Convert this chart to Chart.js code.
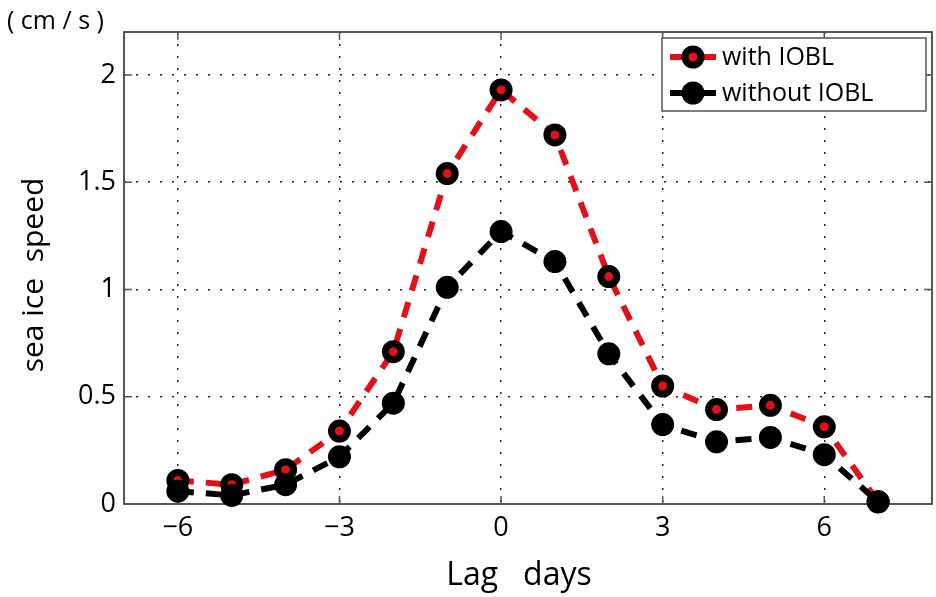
<!DOCTYPE html>
<html>
<head>
<meta charset="utf-8">
<script src="https://cdn.jsdelivr.net/npm/chart.js@4.4.1/dist/chart.umd.min.js"></script>
<style>
  html, body { margin: 0; padding: 0; background: #fff; }
  #wrap { width: 936px; height: 597px; }
</style>
</head>
<body>
<div id="wrap"><canvas id="iceChart" width="936" height="597"></canvas></div>
<script>
const lagDays = [-6, -5, -4, -3, -2, -1, 0, 1, 2, 3, 4, 5, 6, 7];
const withIOBL = [0.11, 0.09, 0.16, 0.34, 0.71, 1.54, 1.93, 1.72, 1.06, 0.55, 0.44, 0.46, 0.36, 0.01];
const withoutIOBL = [0.06, 0.04, 0.09, 0.22, 0.47, 1.01, 1.27, 1.13, 0.70, 0.37, 0.29, 0.31, 0.23, 0.01];
const xTicks = [-6, -3, 0, 3, 6];
const yTicks = [0, 0.5, 1, 1.5, 2];
const seriesNames = ["with IOBL", "without IOBL"];

const FONT = "'Open Sans', 'Noto Sans', sans-serif";
const AXIS = "#555";

// frame, inside tick marks, legend and titles (matlab style)
const decor = {
    id: "decor",
    beforeDatasetsDraw(chart) {
        const { ctx, chartArea: a, scales } = chart;
        ctx.save();
        ctx.strokeStyle = AXIS;
        ctx.lineWidth = 2;
        ctx.strokeRect(a.left, a.top, a.right - a.left, a.bottom - a.top);
        ctx.lineWidth = 1.5;
        ctx.beginPath();
        xTicks.forEach(v => {
            const x = scales.x.getPixelForValue(v);
            ctx.moveTo(x, a.bottom); ctx.lineTo(x, a.bottom - 8);
            ctx.moveTo(x, a.top); ctx.lineTo(x, a.top + 8);
        });
        yTicks.forEach(v => {
            const y = scales.y.getPixelForValue(v);
            ctx.moveTo(a.left, y); ctx.lineTo(a.left + 8, y);
            ctx.moveTo(a.right, y); ctx.lineTo(a.right - 8, y);
        });
        ctx.stroke();
        ctx.restore();
    },
    afterDraw(chart) {
        const { ctx } = chart;
        ctx.save();
        ctx.fillStyle = "#000";
        ctx.font = "25px " + FONT;
        ctx.textBaseline = "middle";
        ctx.textAlign = "left";
        ctx.fillText("( cm / s )", 7, 22);

        ctx.font = "32px " + FONT;
        ctx.textAlign = "center";
        ctx.fillText("Lag   days", 519, 576);

        ctx.save();
        ctx.translate(34, 275);
        ctx.rotate(-Math.PI / 2);
        ctx.font = "30px " + FONT;
        ctx.fillText("sea ice  speed", 0, 0);
        ctx.restore();

        // legend
        const bx = 662, by = 38, bw = 264, bh = 73;
        ctx.fillStyle = "#fff";
        ctx.fillRect(bx, by, bw, bh);
        ctx.strokeStyle = AXIS;
        ctx.lineWidth = 1.5;
        ctx.strokeRect(bx, by, bw, bh);
        const rows = [57, 93];
        chart.data.datasets.forEach((ds, i) => {
            const y = rows[i];
            ctx.strokeStyle = ds.borderColor;
            ctx.lineWidth = 6;
            ctx.beginPath();
            ctx.moveTo(670, y); ctx.lineTo(716, y);
            ctx.stroke();
            ctx.beginPath();
            ctx.arc(693, y, ds.pointRadius, 0, Math.PI * 2);
            ctx.fillStyle = ds.pointBackgroundColor;
            ctx.fill();
            ctx.lineWidth = ds.pointBorderWidth;
            ctx.strokeStyle = ds.pointBorderColor;
            ctx.stroke();
            ctx.fillStyle = "#000";
            ctx.font = "25px " + FONT;
            ctx.textAlign = "left";
            ctx.textBaseline = "middle";
            ctx.fillText(ds.label, 722, y + 1);
        });
        ctx.restore();
    }
};

const ctx = document.getElementById("iceChart").getContext("2d");

new Chart(ctx, {
    type: "line",
    data: {
        datasets: [
            {
                label: seriesNames[0],
                data: lagDays.map((d, i) => ({ x: d, y: withIOBL[i] })),
                borderColor: "#e3101a",
                borderWidth: 6,
                borderDash: [16, 12],
                pointRadius: 8,
                pointBorderWidth: 7,
                pointBackgroundColor: "#e3101a",
                pointBorderColor: "#000",
                order: 1,
                clip: false
            },
            {
                label: seriesNames[1],
                data: lagDays.map((d, i) => ({ x: d, y: withoutIOBL[i] })),
                borderColor: "#000",
                borderWidth: 6,
                borderDash: [16, 12],
                pointRadius: 9,
                pointBorderWidth: 5,
                pointBackgroundColor: "#000",
                pointBorderColor: "#000",
                order: 0,
                clip: false
            }
        ]
    },
    options: {
        responsive: false,
        animation: false,
        layout: { autoPadding: false, padding: { top: 32, right: 4, left: 0, bottom: 0 } },
        plugins: {
            legend: { display: false },
            tooltip: { enabled: false }
        },
        scales: {
            x: {
                type: "linear",
                min: -7,
                max: 8,
                afterBuildTicks: s => { s.ticks = xTicks.map(v => ({ value: v })); },
                afterFit: s => { s.height = 93; s.paddingLeft = 0; s.paddingRight = 0; },
                border: { display: false, dash: [2, 10] },
                grid: {
                    color: "#222",
                    lineWidth: 1.5,
                    drawTicks: false
                },
                ticks: {
                    padding: 8,
                    color: "#000",
                    font: { family: FONT, size: 27 },
                    callback: v => (v < 0 ? "\u2212" + Math.abs(v) : String(v))
                }
            },
            y: {
                min: 0,
                max: 2.2,
                afterBuildTicks: s => { s.ticks = yTicks.map(v => ({ value: v })); },
                afterFit: s => { s.width = 124; s.paddingTop = 0; s.paddingBottom = 0; },
                border: { display: false, dash: [2, 10] },
                grid: {
                    color: "#222",
                    lineWidth: 1.5,
                    drawTicks: false
                },
                ticks: {
                    padding: 8,
                    color: "#000",
                    font: { family: FONT, size: 27 },
                    callback: v => String(v)
                }
            }
        }
    },
    plugins: [decor]
});
</script>
</body>
</html>
